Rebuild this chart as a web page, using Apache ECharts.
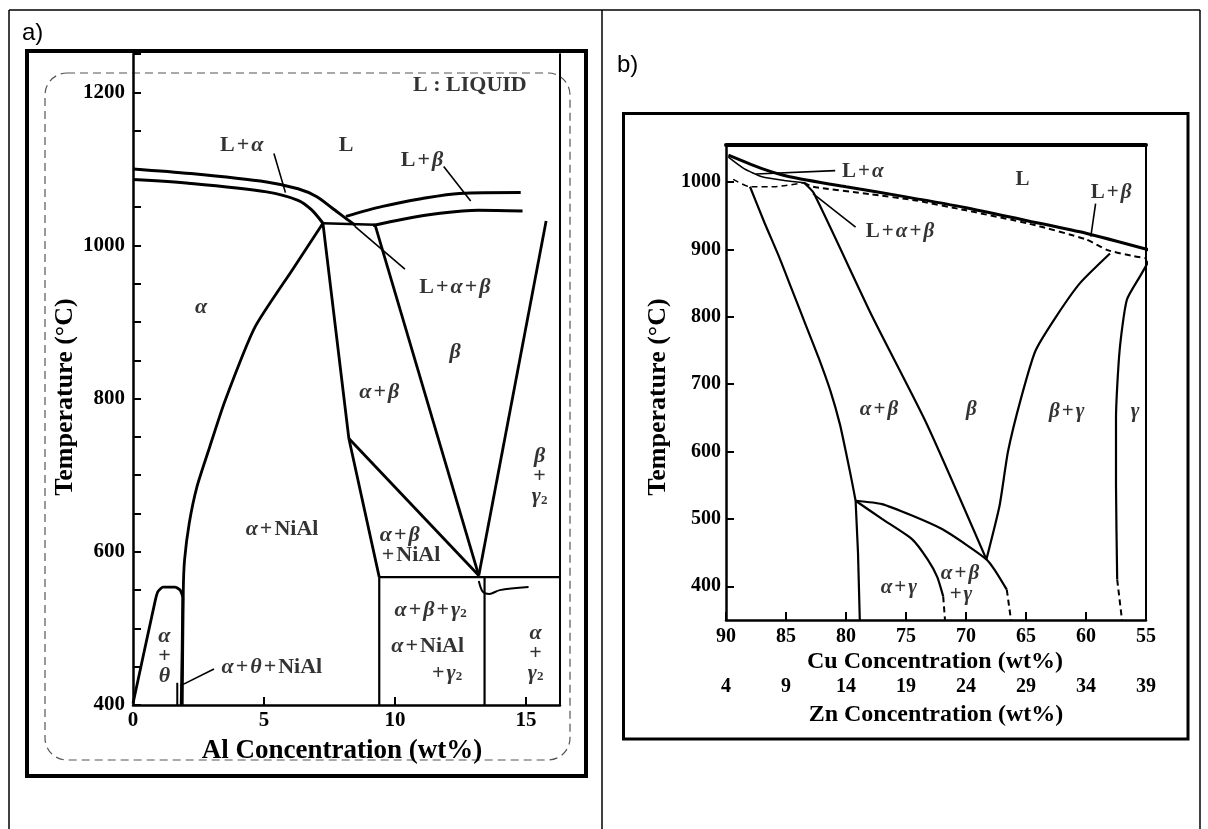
<!DOCTYPE html>
<html lang="en">
<head>
<meta charset="utf-8" />
<title>Phase diagrams a) and b)</title>
<script src="https://cdn.jsdelivr.net/npm/echarts@6.0.0/dist/echarts.min.js"></script>
<style>
    html, body { margin: 0; padding: 0; background: #fff; }
    #main { width: 1208px; height: 829px; }
</style>
</head>
<body>
<div id="main"></div>
<script>
    let serif = 'Liberation Serif'
    let p = '{p|+}'

    // ---------- panel a: Al concentration ----------
    let xLabelsA = [0, 5, 10, 15]
    let xTicksA = [5, 10, 15]
    let yLabelsA = [400, 600, 800, 1000, 1200]

    let liqAlphaA = [[0,1100],[2.2,1094],[5.1,1083],[6.3,1074],[7.0,1064],[7.6,1049],[8.1,1036],[8.5,1026]]
    let solAlphaA = [[0,1086],[2.2,1081],[5.1,1070],[6.3,1059],[6.8,1047],[7.25,1029]]
    let liqBetaA = [[8.13,1038],[9.53,1051],[11.0,1061],[12.46,1068],[14.8,1069]]
    let solBetaA = [[9.16,1026],[10.26,1034],[11.72,1042],[13.19,1046],[14.87,1045]]
    let peritecticA = [[7.25,1029],[9.24,1027]]
    let alphaBoundA = [[7.25,1029],[6.1,969],[4.65,893],[3.5,796],[2.9,734],[2.45,686],[2.15,638],[1.97,590],[1.92,550],[1.88,400]]
    let thetaDomeA = [[0,402],[0.84,535],[0.95,548],[1.15,554],[1.6,554],[1.8,550],[1.9,540],[1.84,400]]
    let thetaStripA = [[1.69,400],[1.69,429]]
    let alphaBetaA = [[7.25,1029],[8.24,748],[9.4,567]]
    let betaNiAlA = [[8.24,748],[13.2,569]]
    let betaEdgeA = [[9.24,1027],[13.2,569]]
    let betaGammaA = [[13.2,569],[15.77,1032]]
    let eutectoidA = [[9.4,567],[16.3,567]]
    let wallA1 = [[9.4,567],[9.4,400]]
    let wallA2 = [[13.42,567],[13.42,400]]
    let curlA = [[13.2,562],[13.35,548],[13.6,545],[14.0,550],[15.1,554]]
    let leadersA = [
        [[5.38,1120],[5.82,1069]],
        [[11.86,1103],[12.89,1058]],
        [[10.38,969],[8.47,1025]],
        [[3.09,447],[1.8,425]]
    ]
    let regionLabelsA = [
        ['L : LIQUID', 12.86, 1209],
        ['L' + p + '{g|α}', 4.15, 1131],
        ['L', 8.13, 1131],
        ['L' + p + '{g|β}', 11.03, 1111],
        ['L' + p + '{g|α}' + p + '{g|β}', 12.29, 946],
        ['{g|α}', 2.6, 919],
        ['{g|β}', 12.3, 861],
        ['{g|α}' + p + '{g|β}', 9.4, 808],
        ['{g|β}\n+\n{g|γ}{s|2}', 15.52, 698],
        ['{g|α}' + p + 'NiAl', 5.69, 630],
        ['{g|α}' + p + 'NiAl', 11.25, 476],
        ['{g|α}' + p + '{g|β}' + p + '{g|γ}{s|2}', 11.36, 524],
        [p + '{g|γ}{s|2}', 11.95, 441],
        ['{g|α}\n+\n{g|γ}{s|2}', 15.37, 468],
        ['{g|α}\n+\n{g|θ}', 1.2, 463],
        ['{g|α}' + p + '{g|θ}' + p + 'NiAl', 5.3, 449]
    ]
    let leftLabelsA = [
        ['{g|α}' + p + '{g|β}\n' + p + 'NiAl', 9.4, 608]
    ]

    // ---------- panel b: Cu / Zn concentration ----------
    let cuTicks = [90, 85, 80, 75, 70, 65, 60, 55]
    let znLabels = ['4', '9', '14', '19', '24', '29', '34', '39']
    let yLabelsB = [400, 500, 600, 700, 800, 900, 1000]

    let liquidusB = [[89.8,1040],[87,1020],[84.7,1008],[80,993],[75,978],[70,962],[65,943],[60,924],[54.7,899]]
    let solidusB = [[83.5,999],[82.75,993],[78,982],[74.3,973],[70,958],[64.7,938],[60,915],[58.2,899],[56,890],[54.7,886]]
    let solAlphaB = [[89.8,1037],[88.5,1020],[87,1008],[85,1002],[83.5,999]]
    let dashAlphaB = [[89.4,1004],[88,993],[86,993],[83.5,999]]
    let alphaB = [[88,993],[86.8,940],[85.6,890],[84.5,840],[83.4,790],[82.3,740],[81.3,690],[80.5,640],[79.9,590],[79.5,555],[79.2,527]]
    let alphaWallB = [[79.2,527],[79.0,450],[78.85,350]]
    let betaB = [[83.5,999],[82.7,984],[77.8,800],[73.3,642],[68.3,440]]
    let betaGammaB = [[68.3,440],[67.2,520],[66.5,600],[65.4,680],[64.2,750],[62.5,800],[60.5,850],[58,894]]
    let gammaB = [[54.7,885],[55.5,860],[56.6,825],[57.2,750],[57.5,650],[57.5,550],[57.4,410]]
    let gammaDashB = [[57.4,410],[57.0,350]]
    let upperEutB = [[79.2,527],[77,522],[74.5,505],[72,485],[70,462],[68.3,440],[67.6,424],[66.6,395]]
    let upperEutDashB = [[66.6,395],[66.25,350]]
    let lowerEutB = [[79.2,527],[77,500],[74.5,470],[73.2,440],[72.4,414],[71.9,385]]
    let lowerEutDashB = [[71.9,385],[71.75,350]]
    let leadersB = [
        [[87.5,1012],[80.9,1017]],
        [[82.75,983],[79.2,933]],
        [[59.2,968],[59.6,919]]
    ]
    let regionLabelsB = [
        ['L' + p + '{g|α}', 78.6, 1015],
        ['L', 65.3, 1003],
        ['L' + p + '{g|β}', 57.9, 984],
        ['L' + p + '{g|α}' + p + '{g|β}', 75.5, 927],
        ['{g|α}' + p + '{g|β}', 77.25, 663],
        ['{g|β}', 69.55, 662],
        ['{g|β}' + p + '{g|γ}', 61.6, 659],
        ['{g|γ}', 55.9, 659],
        ['{g|α}' + p + '{g|γ}', 75.6, 398],
        ['{g|α}' + p + '{g|β}\n' + p + '{g|γ}', 70.5, 403]
    ]

    function line(data, xi, yi, width, dashed, smooth) {
        return {
            type: 'line', data: data, xAxisIndex: xi, yAxisIndex: yi,
            symbol: 'none', silent: true, clip: false, smooth: smooth || false,
            lineStyle: { color: '#000', width: width, type: dashed ? [6, 4] : 'solid' }
        }
    }

    function labels(rows, xi, yi, size, lh, pos) {
        let base = { fontFamily: serif, fontWeight: 'bold', fontSize: size, color: '#000', textBorderWidth: 0 }
        return {
            type: 'scatter', xAxisIndex: xi, yAxisIndex: yi, symbol: 'circle', symbolSize: 1, silent: true,
            itemStyle: { color: '#fff' }, z: 5,
            data: rows.map(r => ({ name: r[0], value: [r[1], r[2]] })),
            label: Object.assign({
                show: true, position: pos || 'inside', distance: 0,
                formatter: q => q.name,
                textBorderColor: 'transparent', lineHeight: lh,
                rich: {
                    g: Object.assign({}, base, { fontStyle: 'italic' }),
                    p: Object.assign({}, base, { padding: [0, 2, 0, 2] }),
                    s: Object.assign({}, base, { fontSize: Math.round(size * 0.6), verticalAlign: 'bottom' })
                }
            }, base)
        }
    }

    let axisFont = { color: '#000', fontFamily: serif, fontWeight: 'bold' }
    let plain = v => String(v)

    let series = [
        line(liqAlphaA, 0, 0, 3, false, 0.3),
        line(solAlphaA, 0, 0, 3, false, 0.3),
        line(liqBetaA, 0, 0, 3, false, 0.3),
        line(solBetaA, 0, 0, 3, false, 0.3),
        line(peritecticA, 0, 0, 2.5),
        line(alphaBoundA, 0, 0, 2.8, false, 0.2),
        line(thetaDomeA, 0, 0, 2.8, false, 0.2),
        line(thetaStripA, 0, 0, 2),
        line(alphaBetaA, 0, 0, 2.8),
        line(betaNiAlA, 0, 0, 2.8),
        line(betaEdgeA, 0, 0, 2.8),
        line(betaGammaA, 0, 0, 2.8),
        line(eutectoidA, 0, 0, 2.2),
        line(wallA1, 0, 0, 2.2),
        line(wallA2, 0, 0, 2.2),
        line(curlA, 0, 0, 2, false, 0.3),
        labels(regionLabelsA, 0, 0, 22, 20),
        labels(leftLabelsA, 0, 0, 22, 20, 'right'),

        line(liquidusB, 1, 2, 3, false, 0.2),
        line(solidusB, 1, 2, 2, true, 0.2),
        line(solAlphaB, 1, 2, 1.5, false, 0.2),
        line(dashAlphaB, 1, 2, 1.5, true, 0.2),
        line(alphaB, 1, 2, 2.2, false, 0.2),
        line(alphaWallB, 1, 2, 2.2),
        line(betaB, 1, 2, 2.2, false, 0.2),
        line(betaGammaB, 1, 2, 2.2, false, 0.2),
        line(gammaB, 1, 2, 2.2, false, 0.2),
        line(gammaDashB, 1, 2, 2, true),
        line(upperEutB, 1, 2, 2.2, false, 0.2),
        line(upperEutDashB, 1, 2, 2, true),
        line(lowerEutB, 1, 2, 2.2, false, 0.2),
        line(lowerEutDashB, 1, 2, 2, true),
        labels(regionLabelsB, 1, 2, 21, 21)
    ]
    leadersA.forEach(d => series.push(line(d, 0, 0, 1.6)))
    leadersB.forEach(d => series.push(line(d, 1, 2, 1.6)))

    let myChart = echarts.init(document.getElementById('main'), null, { renderer: 'canvas' })

    myChart.setOption({
        animation: false,
        backgroundColor: '#fff',
        grid: [
            { left: 133, top: 54, width: 427, height: 651 },
            { left: 726, top: 145, width: 420, height: 475 }
        ],
        xAxis: [
            {
                gridIndex: 0, type: 'value', min: 0, max: 16.3, position: 'bottom',
                splitLine: { show: false },
                axisLine: { lineStyle: { color: '#000', width: 2.5 } },
                axisTick: { inside: true, length: 8, customValues: xTicksA, lineStyle: { color: '#000', width: 2 } },
                axisLabel: Object.assign({ fontSize: 21, margin: 5, customValues: xLabelsA, formatter: plain }, axisFont)
            },
            {
                gridIndex: 1, type: 'value', min: 55, max: 90, interval: 5, inverse: true, position: 'bottom',
                splitLine: { show: false },
                axisLine: { lineStyle: { color: '#000', width: 2.5 } },
                axisTick: { inside: true, length: 8, lineStyle: { color: '#000', width: 2 } },
                axisLabel: Object.assign({ fontSize: 20, margin: 7, formatter: plain }, axisFont)
            },
            {
                gridIndex: 1, type: 'value', min: 55, max: 90, interval: 5, inverse: true,
                position: 'bottom', offset: 50,
                splitLine: { show: false }, axisLine: { show: false }, axisTick: { show: false },
                axisLabel: Object.assign({
                    fontSize: 20, margin: 7,
                    formatter: v => znLabels[cuTicks.indexOf(Math.round(v))]
                }, axisFont)
            },
            {
                gridIndex: 1, type: 'value', min: 55, max: 90, inverse: true, position: 'top',
                splitLine: { show: false }, axisTick: { show: false }, axisLabel: { show: false },
                axisLine: { lineStyle: { color: '#000', width: 4 } }
            }
        ],
        yAxis: [
            {
                gridIndex: 0, type: 'value', min: 400, max: 1250, interval: 50, position: 'left',
                splitLine: { show: false },
                axisLine: { lineStyle: { color: '#000', width: 2.5 } },
                axisTick: { inside: true, length: 8, lineStyle: { color: '#000', width: 2 } },
                axisLabel: Object.assign({ fontSize: 21, margin: 8, customValues: yLabelsA, formatter: plain }, axisFont)
            },
            {
                gridIndex: 0, type: 'value', min: 400, max: 1250, position: 'right',
                splitLine: { show: false }, axisTick: { show: false }, axisLabel: { show: false },
                axisLine: { lineStyle: { color: '#000', width: 2 } }
            },
            {
                gridIndex: 1, type: 'value', min: 350, max: 1055, position: 'left',
                splitLine: { show: false },
                axisLine: { lineStyle: { color: '#000', width: 2.5 } },
                axisTick: { inside: true, length: 8, customValues: yLabelsB, lineStyle: { color: '#000', width: 2 } },
                axisLabel: Object.assign({ fontSize: 20, margin: 5, customValues: yLabelsB, formatter: plain }, axisFont)
            },
            {
                gridIndex: 1, type: 'value', min: 350, max: 1055, position: 'right',
                splitLine: { show: false }, axisTick: { show: false }, axisLabel: { show: false },
                axisLine: { lineStyle: { color: '#000', width: 2 } }
            }
        ],
        graphic: [
            // table cell borders
            { type: 'line', z: 1, shape: { x1: 9, y1: 10, x2: 1200, y2: 10 }, style: { stroke: '#000', lineWidth: 1.5 } },
            { type: 'line', z: 1, shape: { x1: 9, y1: 10, x2: 9, y2: 829 }, style: { stroke: '#000', lineWidth: 1.5 } },
            { type: 'line', z: 1, shape: { x1: 602, y1: 10, x2: 602, y2: 829 }, style: { stroke: '#000', lineWidth: 1.5 } },
            { type: 'line', z: 1, shape: { x1: 1200, y1: 10, x2: 1200, y2: 829 }, style: { stroke: '#000', lineWidth: 1.5 } },
            { type: 'text', z: 1, x: 22, y: 33, style: { text: 'a)', font: '24px "Liberation Sans"', fill: '#000', textVerticalAlign: 'middle' } },
            { type: 'text', z: 1, x: 617, y: 65, style: { text: 'b)', font: '24px "Liberation Sans"', fill: '#000', textVerticalAlign: 'middle' } },
            // picture frames
            { type: 'rect', z: 1, shape: { x: 27, y: 51, width: 559, height: 725 }, style: { fill: 'none', stroke: '#000', lineWidth: 4 } },
            { type: 'rect', z: 0, shape: { x: 45, y: 73, width: 525, height: 687, r: 22 }, style: { fill: 'none', stroke: '#555', lineWidth: 1.2, lineDash: [8, 5] } },
            { type: 'rect', z: 1, shape: { x: 623.5, y: 113.5, width: 564.5, height: 625.5 }, style: { fill: 'none', stroke: '#000', lineWidth: 3 } },
            // axis titles
            { type: 'text', z: 1, x: 65, y: 397, rotation: Math.PI / 2, style: { text: 'Temperature (°C)', font: 'bold 26px "Liberation Serif"', fill: '#000', textAlign: 'center', textVerticalAlign: 'middle' } },
            { type: 'text', z: 1, x: 342, y: 751, style: { text: 'Al Concentration (wt%)', font: 'bold 27px "Liberation Serif"', fill: '#000', textAlign: 'center', textVerticalAlign: 'middle' } },
            { type: 'text', z: 1, x: 658, y: 397, rotation: Math.PI / 2, style: { text: 'Temperature (°C)', font: 'bold 26px "Liberation Serif"', fill: '#000', textAlign: 'center', textVerticalAlign: 'middle' } },
            { type: 'text', z: 1, x: 935, y: 662, style: { text: 'Cu Concentration (wt%)', font: 'bold 24px "Liberation Serif"', fill: '#000', textAlign: 'center', textVerticalAlign: 'middle' } },
            { type: 'text', z: 1, x: 936, y: 715, style: { text: 'Zn Concentration (wt%)', font: 'bold 24px "Liberation Serif"', fill: '#000', textAlign: 'center', textVerticalAlign: 'middle' } }
        ],
        series: series
    })
</script>
</body>
</html>
